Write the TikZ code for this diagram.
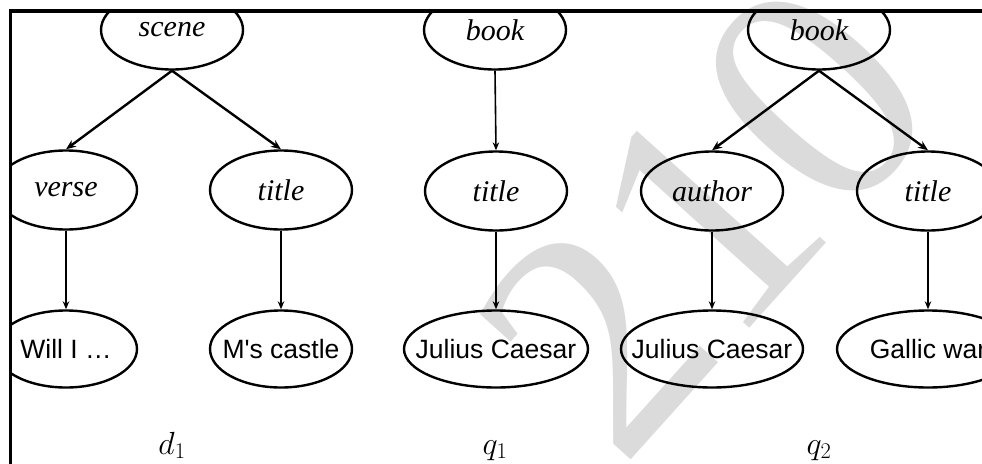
\documentclass[tikz,border=0pt]{standalone}
\usepackage{fix-cm}
\usepackage{fontspec}
\newfontfamily\nodeserif{Liberation Serif}
\newfontfamily\nodesans{Liberation Sans}
\newfontfamily\markserif{Liberation Serif}
\usetikzlibrary{shapes.geometric,arrows.meta}

\newcommand\taglabel{\nodeserif\itshape\fontsize{30}{32}\selectfont}
\newcommand\valuelabel{\nodesans\fontsize{26.5}{30}\selectfont}

\begin{document}
\begin{tikzpicture}[x=1pt,y=-1pt,
  tagnode/.style={ellipse, draw, line width=2.4pt, inner sep=0pt,
    minimum width=142pt, minimum height=79pt, font=\taglabel},
  valuenode/.style={ellipse, draw, line width=2.4pt, inner sep=0pt,
    minimum height=77pt, font=\valuelabel},
  fork/.style={-{Stealth[length=10pt,width=8pt]}, line width=2.4pt},
  drop/.style={-{Stealth[length=8pt,width=6.5pt]}, line width=1.6pt},
  treename/.style={inner sep=0pt, anchor=base, font=\fontsize{32}{32}\selectfont},
]
\useasboundingbox (0,0) rectangle (982,463);
\fill[white] (0,0) rectangle (982,463);

% faint rotated watermark digits
\node[inner sep=0pt, anchor=base west, rotate=48, text=black!14,
      font=\markserif\fontsize{326}{326}\selectfont] (mark) at (621,471) {210};

\begin{scope}
\clip (10.5,11) rectangle (982,463);

% d1
\node[tagnode] (scene) at (172,30) {\makebox[0pt]{scene}};
\node[tagnode] (verse) at (66,190) {\makebox[0pt]{verse}};
\node[tagnode] (dtitle) at (281,190) {\makebox[0pt]{title}};
\node[valuenode, minimum width=142pt] (will) at (66,349) {\makebox[0pt]{Will I \dots}};
\node[valuenode, minimum width=142pt] (castle) at (281,349) {\makebox[0pt]{M's castle}};
\draw[fork] (scene.south) -- (verse.north);
\draw[fork] (scene.south) -- (dtitle.north);
\draw[drop] (verse.south) -- (will.north);
\draw[drop] (dtitle.south) -- (castle.north);

% q1
\node[tagnode] (book1) at (495,30) {\makebox[0pt]{book}};
\node[tagnode] (title1) at (496,191) {\makebox[0pt]{title}};
\node[valuenode, minimum width=184pt] (caesar1) at (496,349) {\makebox[0pt]{Julius Caesar}};
\draw[drop] (book1.south) -- (title1.north);
\draw[drop] (title1.south) -- (caesar1.north);

% q2
\node[tagnode] (book2) at (819,30) {\makebox[0pt]{book}};
\node[tagnode] (author) at (712,191) {\makebox[0pt]{author}};
\node[tagnode] (title2) at (928,191) {\makebox[0pt]{title}};
\node[valuenode, minimum width=182pt] (caesar2) at (712,349) {\makebox[0pt]{Julius Caesar}};
\node[valuenode, minimum width=182pt] (gallic) at (928,349) {\makebox[0pt]{Gallic war}};
\draw[fork] (book2.south) -- (author.north);
\draw[fork] (book2.south) -- (title2.north);
\draw[drop] (author.south) -- (caesar2.north);
\draw[drop] (title2.south) -- (gallic.north);

% tree names
\node[treename] (dname) at (172,454) {$d_1$};
\node[treename] (q1name) at (495,454) {$q_1$};
\node[treename] (q2name) at (819,454) {$q_2$};
\end{scope}

% frame
\draw[line width=3.5pt] (10.5,470) -- (10.5,11) -- (990,11);
\end{tikzpicture}
\end{document}
